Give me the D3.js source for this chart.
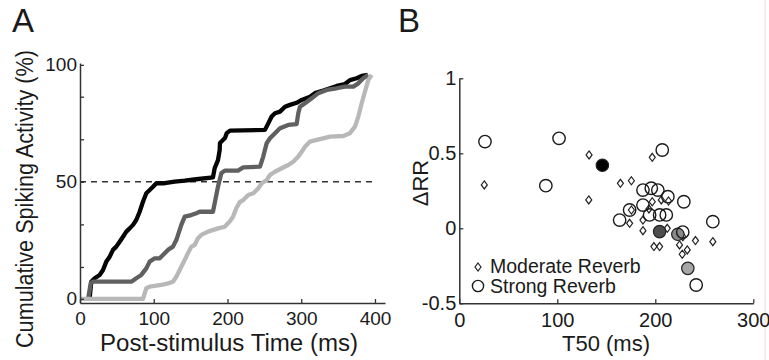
<!DOCTYPE html>
<html>
<head>
<meta charset="utf-8">
<script src="https://cdn.jsdelivr.net/npm/d3@7"></script>
<style>
  body { margin: 0; background: #fff; }
  svg { display: block; }
  text { font-family: "Liberation Sans", Arial, sans-serif; fill: #1a1a1a; }
</style>
</head>
<body>
<svg id="chart" width="769" height="360"></svg>
<script>
// ---- panel A: cumulative spiking activity, [time (ms), percent]
const blackCurve = [[13,0],[15.3,7.3],[19.9,8.8],[26.7,10.2],[31.2,12.3],[35.7,15.9],[40.3,18],[44.7,20.9],
  [49.2,22.3],[53.8,24.4],[58.3,26.5],[62.8,28.7],[67.4,30.1],[71.9,31.6],[76.3,33.7],[80.9,37.2],[85.4,41.5],
  [89.9,45.1],[94.5,46.5],[99,47.9],[103.5,49.4],[114.8,49.4],[128.4,50.1],[142,50.5],[157.7,51.1],[180.3,51.9],
  [182.6,55.8],[187.1,59.3],[189.4,63.6],[189.8,66.6],[196.6,68.7],[198.9,70.8],[203.4,71.9],[250.8,72.2],
  [255.3,75],[259.9,77.9],[264.4,79.3],[271.2,80],[278,82.1],[284.7,82.9],[293.8,83.8],[300.6,85],[311.9,86.4],
  [318.6,87.9],[329.9,89],[339,90],[348.1,91],[359.3,91.8],[366.1,93.5],[375.2,94.3],[382,95.3],[390,95.7]];
const darkCurve = [[11,0],[14.5,6.6],[17.6,7.3],[69.6,7.3],[76.3,8.8],[83.1,10.2],[89.9,13],[94.5,15.9],
  [101.3,17.3],[108.1,17.3],[112.5,18.7],[119.3,20.9],[126.1,22.3],[130.6,25.1],[137.4,31.6],[142,35.1],
  [150.9,35.8],[157.7,36.6],[162.3,37.2],[180.3,37.2],[182.6,40.8],[187.1,47.9],[191.6,53.7],[196.2,54.8],
  [214.2,54.8],[221.4,56.2],[244.1,56.5],[248.5,60.8],[253.1,66.5],[257.6,68.6],[264.4,70.8],[271.2,72.9],
  [282.4,74.3],[293.8,74.7],[296,79.3],[298.3,82.1],[305.1,83.6],[314.2,85.7],[323.1,87.9],[334.5,89.3],
  [348.1,90],[359.3,90.7],[370.6,90.7],[377.4,92.1],[384.1,94.3],[391,95.7]];
const lightCurve = [[0,0],[85.4,0],[89.9,4.5],[94.5,5.2],[110.2,5.9],[119.3,6.6],[126.1,7.3],[130.6,9.4],
  [135.2,12.3],[142,16.6],[146.4,19.5],[151,22.3],[155.5,23],[160,25.9],[164.5,27.3],[173.6,28.7],[187.1,30.1],
  [196.2,30.8],[203,33],[207.5,35.1],[211.9,38.7],[216.9,41.4],[221.4,42.2],[228.2,44.4],[235,45.1],[241.8,47.2],
  [246.4,49.4],[253.2,50.8],[257.6,52.9],[264.4,54.3],[273.5,55.8],[282.4,57.2],[289.2,58.6],[296,60.8],
  [300.6,62.9],[305.1,65],[311.9,67.2],[321,67.9],[329.9,68.6],[339,69.3],[357,69.6],[366.1,70.8],[372.9,73.6],
  [377.4,77.9],[382,83.6],[386.4,88.5],[390.9,93.5],[395.5,95.7]];
const halfLevel = 50;
const timeTicks = [0, 100, 200, 300, 400];
const pctTicks = [0, 13.6, 31.8, 50, 68.2, 86.4, 100];
const pctLabels = [0, 50, 100];

// ---- panel B: T50 vs delta RR
const moderateT50 = [25.5, 132.4, 132.1, 196.9, 164.4, 175.6, 196.9, 206.1, 213.5, 175.6, 193.5, 173.8,
  187.4, 187.4, 212.2, 198.6, 204.4, 228.1, 224.7, 232.6, 227.5, 241, 258.7, 206];
const moderateDRR = [0.289, 0.489, 0.189, 0.473, 0.3, 0.317, 0.177, 0.189, 0.182, 0.122, 0.129, 0.033,
  0.055, -0.016, 0, -0.122, -0.122, -0.056, -0.111, -0.144, -0.173, -0.082, -0.089, -0.02];
const strongT50 = [26.2, 101.8, 88.3, 207.1, 187.4, 195.9, 202.6, 212.8, 229.1, 187.4, 173.8, 163.6,
  194.2, 204.4, 211.2, 258.7, 241.7, 228];
const strongDRR = [0.578, 0.6, 0.284, 0.522, 0.255, 0.267, 0.255, 0.211, 0.177, 0.155, 0.122, 0.055,
  0.089, 0.089, 0.089, 0.044, -0.378, -0.025];
const exampleUnits = ["black", "dark", "mid", "light"];
const exampleT50 = [146, 204.4, 223, 233.2];
const exampleDRR = [0.42, -0.022, -0.04, -0.267];
const t50Ticks = [0, 100, 200, 300];
const drrTicks = [-0.5, 0, 0.5, 1];
const legendLabels = ["Moderate Reverb", "Strong Reverb"];

const svg = d3.select("#chart");
svg.append("rect").attr("width", 769).attr("height", 360).attr("fill", "#fff");

// faint pink scan artefact at the right edge
svg.append("line").attr("x1", 765).attr("x2", 765).attr("y1", 0).attr("y2", 360)
  .attr("stroke", "#f6d3d8").attr("stroke-width", 1);

function styleAxis(g, size) {
  g.attr("font-family", null).attr("font-size", null);
  g.select(".domain").attr("stroke", "#333").attr("stroke-width", 1.5);
  g.selectAll(".tick line").attr("stroke", "#333").attr("stroke-width", 1.3);
  g.selectAll(".tick text").style("font-size", size + "px").attr("fill", "#1a1a1a");
}

// ================= panel A =================
const xA = d3.scaleLinear().domain([0, 413.6]).range([80, 385]);
const yA = d3.scaleLinear().domain([-1.8, 100.8]).range([303, 63]);

svg.append("text").attr("x", 12).attr("y", 32).style("font-size", "33px").text("A");

svg.append("line")
  .attr("x1", xA(0)).attr("x2", xA(400))
  .attr("y1", yA(halfLevel)).attr("y2", yA(halfLevel))
  .attr("stroke", "#333").attr("stroke-width", 1.5).attr("stroke-dasharray", "6,5");

const line = d3.line().x(d => xA(d[0])).y(d => yA(d[1]));
[[blackCurve, "#050505"], [darkCurve, "#606060"], [lightCurve, "#b8b8b8"]].forEach(([data, c]) => {
  svg.append("path").datum(data)
    .attr("d", line)
    .attr("fill", "none")
    .attr("stroke", c)
    .attr("stroke-width", 4.3)
    .attr("stroke-linejoin", "round");
});

svg.append("g").attr("transform", "translate(0,303)")
  .call(d3.axisBottom(xA).tickValues(timeTicks).tickSizeInner(-4).tickSizeOuter(0).tickPadding(8.5))
  .call(g => styleAxis(g, 19));

svg.append("g").attr("transform", "translate(80,0)")
  .call(d3.axisLeft(yA).tickValues(pctTicks).tickSizeInner(-4).tickSizeOuter(0).tickPadding(3)
    .tickFormat(d => pctLabels.includes(d) ? String(d) : ""))
  .call(g => styleAxis(g, 19));

svg.append("text")
  .attr("x", 229).attr("y", 351).attr("text-anchor", "middle")
  .attr("textLength", 258).attr("lengthAdjust", "spacingAndGlyphs")
  .style("font-size", "23px").text("Post-stimulus Time (ms)");

svg.append("text")
  .attr("transform", "translate(33,199) rotate(-90)")
  .attr("text-anchor", "middle")
  .attr("textLength", 298).attr("lengthAdjust", "spacingAndGlyphs")
  .style("font-size", "23px").text("Cumulative Spiking Activity (%)");

// ================= panel B =================
const xB = d3.scaleLinear().domain([0, 300]).range([459.3, 753.3]);
const yB = d3.scaleLinear().domain([-0.5, 1]).range([303.3, 78.3]);

svg.append("text").attr("x", 398).attr("y", 32).style("font-size", "33px").text("B");

svg.append("g").attr("transform", "translate(0,303.3)")
  .call(d3.axisBottom(xB).tickValues(t50Ticks).tickSizeInner(-4).tickSizeOuter(0).tickPadding(10))
  .call(g => styleAxis(g, 20));

svg.append("g").attr("transform", "translate(459.3,0)")
  .call(d3.axisLeft(yB).tickValues(drrTicks).tickSizeInner(-4).tickSizeOuter(0).tickPadding(3)
    .tickFormat(d => String(d)))
  .call(g => styleAxis(g, 20));

svg.append("text")
  .attr("x", 606).attr("y", 351).attr("text-anchor", "middle")
  .style("font-size", "22px").text("T50 (ms)");

svg.append("text")
  .attr("transform", "translate(428,183) rotate(-90)")
  .attr("text-anchor", "middle")
  .style("font-size", "22px").text("ΔRR");

const diamond = "M0,-4L3,0L0,4L-3,0Z";
const circleR = 6.2;

const strong = strongT50.map((t, i) => ({ t, v: strongDRR[i] }));
const moderate = moderateT50.map((t, i) => ({ t, v: moderateDRR[i] }));
const examples = exampleT50.map((t, i) => ({ t, v: exampleDRR[i], unit: exampleUnits[i] }));

const shade = d3.scaleOrdinal().domain(exampleUnits).range(["#000", "#4d4d4d", "#8a8a8a", "#a6a6a6"]);

svg.append("g").selectAll("path")
  .data(moderate).join("path")
  .attr("d", diamond)
  .attr("transform", d => `translate(${xB(d.t)},${yB(d.v)})`)
  .attr("fill", "none").attr("stroke", "#222").attr("stroke-width", 1.2);

svg.append("g").selectAll("circle")
  .data(examples).join("circle")
  .attr("cx", d => xB(d.t)).attr("cy", d => yB(d.v)).attr("r", circleR)
  .attr("fill", d => shade(d.unit)).attr("stroke", "#222").attr("stroke-width", 1.2);

svg.append("g").selectAll("circle")
  .data(strong).join("circle")
  .attr("cx", d => xB(d.t)).attr("cy", d => yB(d.v)).attr("r", circleR)
  .attr("fill", "none").attr("stroke", "#1a1a1a").attr("stroke-width", 1.4);

// legend
const legend = svg.append("g");
legend.append("path").attr("d", diamond).attr("transform", "translate(478,267)")
  .attr("fill", "none").attr("stroke", "#222").attr("stroke-width", 1.2);
legend.append("circle").attr("cx", 478).attr("cy", 286).attr("r", 5.6)
  .attr("fill", "none").attr("stroke", "#1a1a1a").attr("stroke-width", 1.4);
legend.selectAll("text")
  .data(legendLabels).join("text")
  .attr("x", 490).attr("y", (d, i) => 273 + i * 20)
  .style("font-size", "19.5px").text(d => d);
</script>
</body>
</html>
